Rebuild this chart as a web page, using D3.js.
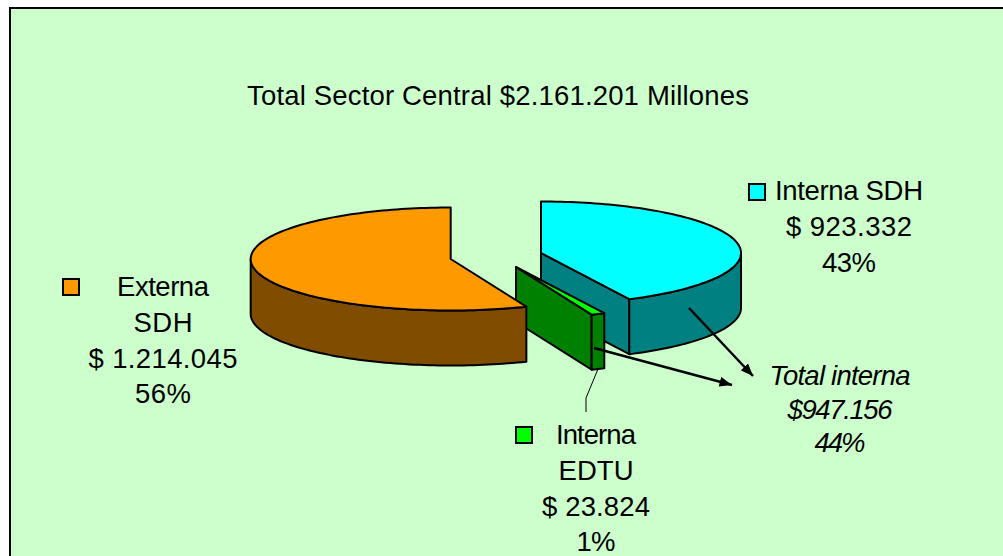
<!DOCTYPE html>
<html>
<head>
<meta charset="utf-8">
<script src="https://cdn.jsdelivr.net/npm/d3@7"></script>
<style>
  html, body { margin: 0; padding: 0; background: #fff; overflow: hidden; }
  text { font-family: "Liberation Sans", Arial, sans-serif; fill: #000; }
</style>
</head>
<body>
<div id="vis"></div>
<script>
// values, in the order the slices run clockwise from 12 o'clock
var names = ["Interna SDH", "Interna EDTU", "Externa SDH"];
var values = [923332, 23824, 1214045];
var topColors = ["#00ffff", "#00ff00", "#ff9900"];
var sideColors = ["#008080", "#008000", "#804d00"];

var titleText = "Total Sector Central $2.161.201 Millones";
var labelSDH = ["Interna SDH", "$ 923.332", "43%"];
var labelEDTU = ["Interna", "EDTU", "$ 23.824", "1%"];
var labelExterna = ["Externa", "SDH", "$ 1.214.045", "56%"];
var labelTotal = ["Total interna", "$947.156", "44%"];

var width = 1003, height = 556;
var fontSize = "27.5px";

var svg = d3.select("#vis").append("svg")
    .attr("width", width)
    .attr("height", height)
    .style("display", "block");

var defs = svg.append("defs");
defs.append("marker")
    .attr("id", "arrow")
    .attr("viewBox", "0 0 10 8")
    .attr("refX", 10)
    .attr("refY", 4)
    .attr("markerUnits", "userSpaceOnUse")
    .attr("markerWidth", 13)
    .attr("markerHeight", 10)
    .attr("orient", "auto")
    .append("path")
    .attr("d", "M0,0L10,4L0,8Z")
    .attr("fill", "#000");

// chart area, the border runs off the right and bottom of the picture
svg.append("rect")
    .attr("x", 10)
    .attr("y", 8)
    .attr("width", width + 20)
    .attr("height", height + 20)
    .attr("fill", "#ccffcc")
    .attr("stroke", "#000")
    .attr("stroke-width", 2);

// pie, tilted by squashing it into an ellipse
var rx = 200, ry = 51.5, depth = 55;
var slices = d3.pie().sort(null).value(function(d) { return d; })(values);
var centers = [[541, 253], [516, 267], [450.7, 259]];

function pt(i, a, drop) {
  return [centers[i][0] + rx * Math.sin(a), centers[i][1] - ry * Math.cos(a) + (drop || 0)];
}

// points along the rim between two angles
function rim(i, a0, a1, drop) {
  var n = Math.max(2, Math.ceil((a1 - a0) * 40));
  return d3.range(n + 1).map(function(k) { return pt(i, a0 + (a1 - a0) * k / n, drop); });
}

var line = d3.line();

function drawShape(points, color) {
  svg.append("path")
      .attr("d", line(points) + "Z")
      .attr("fill", color)
      .attr("stroke", "#000")
      .attr("stroke-width", 2)
      .attr("stroke-linejoin", "round");
}

function drawSlice(i) {
  var s = slices[i];
  var c = centers[i];
  var end = pt(i, s.endAngle);
  // cut face, only the faces turned to the viewer are visible
  if (i < 2) {
    drawShape([c, end, [end[0], end[1] + depth], [c[0], c[1] + depth]], sideColors[i]);
  }
  // outer wall: only the part of the rim on the near side, from 90 to 270 degrees
  var a0 = Math.max(s.startAngle, Math.PI / 2);
  var a1 = Math.min(s.endAngle, Math.PI * 1.5);
  var wall = rim(i, a0, a1, 0).concat(rim(i, a0, a1, depth).reverse());
  drawShape(wall, sideColors[i]);
  // top
  drawShape([c].concat(rim(i, s.startAngle, s.endAngle, 0)), topColors[i]);
}

[0, 1, 2].forEach(drawSlice);

// leader of the EDTU label
svg.append("path")
    .attr("d", line([[598, 369], [586, 398], [586, 412]]))
    .attr("fill", "none")
    .attr("stroke", "#000")
    .attr("stroke-width", 1);

// arrows to the total
[[[689, 308], [753, 376]], [[594, 348], [732, 385]]].forEach(function(a) {
  svg.append("path")
      .attr("d", line(a))
      .attr("fill", "none")
      .attr("stroke", "#000")
      .attr("stroke-width", 2.5)
      .attr("marker-end", "url(#arrow)");
});

// legend keys
[[1, 516, 427], [0, 749, 184], [2, 63, 279]].forEach(function(k) {
  svg.append("rect")
      .attr("x", k[1])
      .attr("y", k[2])
      .attr("width", 16)
      .attr("height", 16)
      .attr("fill", topColors[k[0]])
      .attr("stroke", "#000")
      .attr("stroke-width", 2);
});

// the widths stretch each line to the spacing seen in the picture
function block(lines, widths, x, y, step, italic) {
  lines.forEach(function(t, i) {
    svg.append("text")
        .attr("x", x)
        .attr("y", y + i * step)
        .attr("text-anchor", "middle")
        .attr("textLength", widths[i])
        .attr("lengthAdjust", "spacing")
        .style("font-size", fontSize)
        .style("font-style", italic ? "italic" : "normal")
        .text(t);
  });
}

block([titleText], [502], 498, 105, 0);
block(labelExterna, [92, 59, 149, 56], 163, 296, 35.8);
block(labelSDH, [148, 126, 54], 849, 200, 36);
block(labelEDTU, [80, 75, 108, 39], 596, 444, 35.8);
block(labelTotal, [141, 105, 51], 840, 385, 33.5, true);
</script>
</body>
</html>
